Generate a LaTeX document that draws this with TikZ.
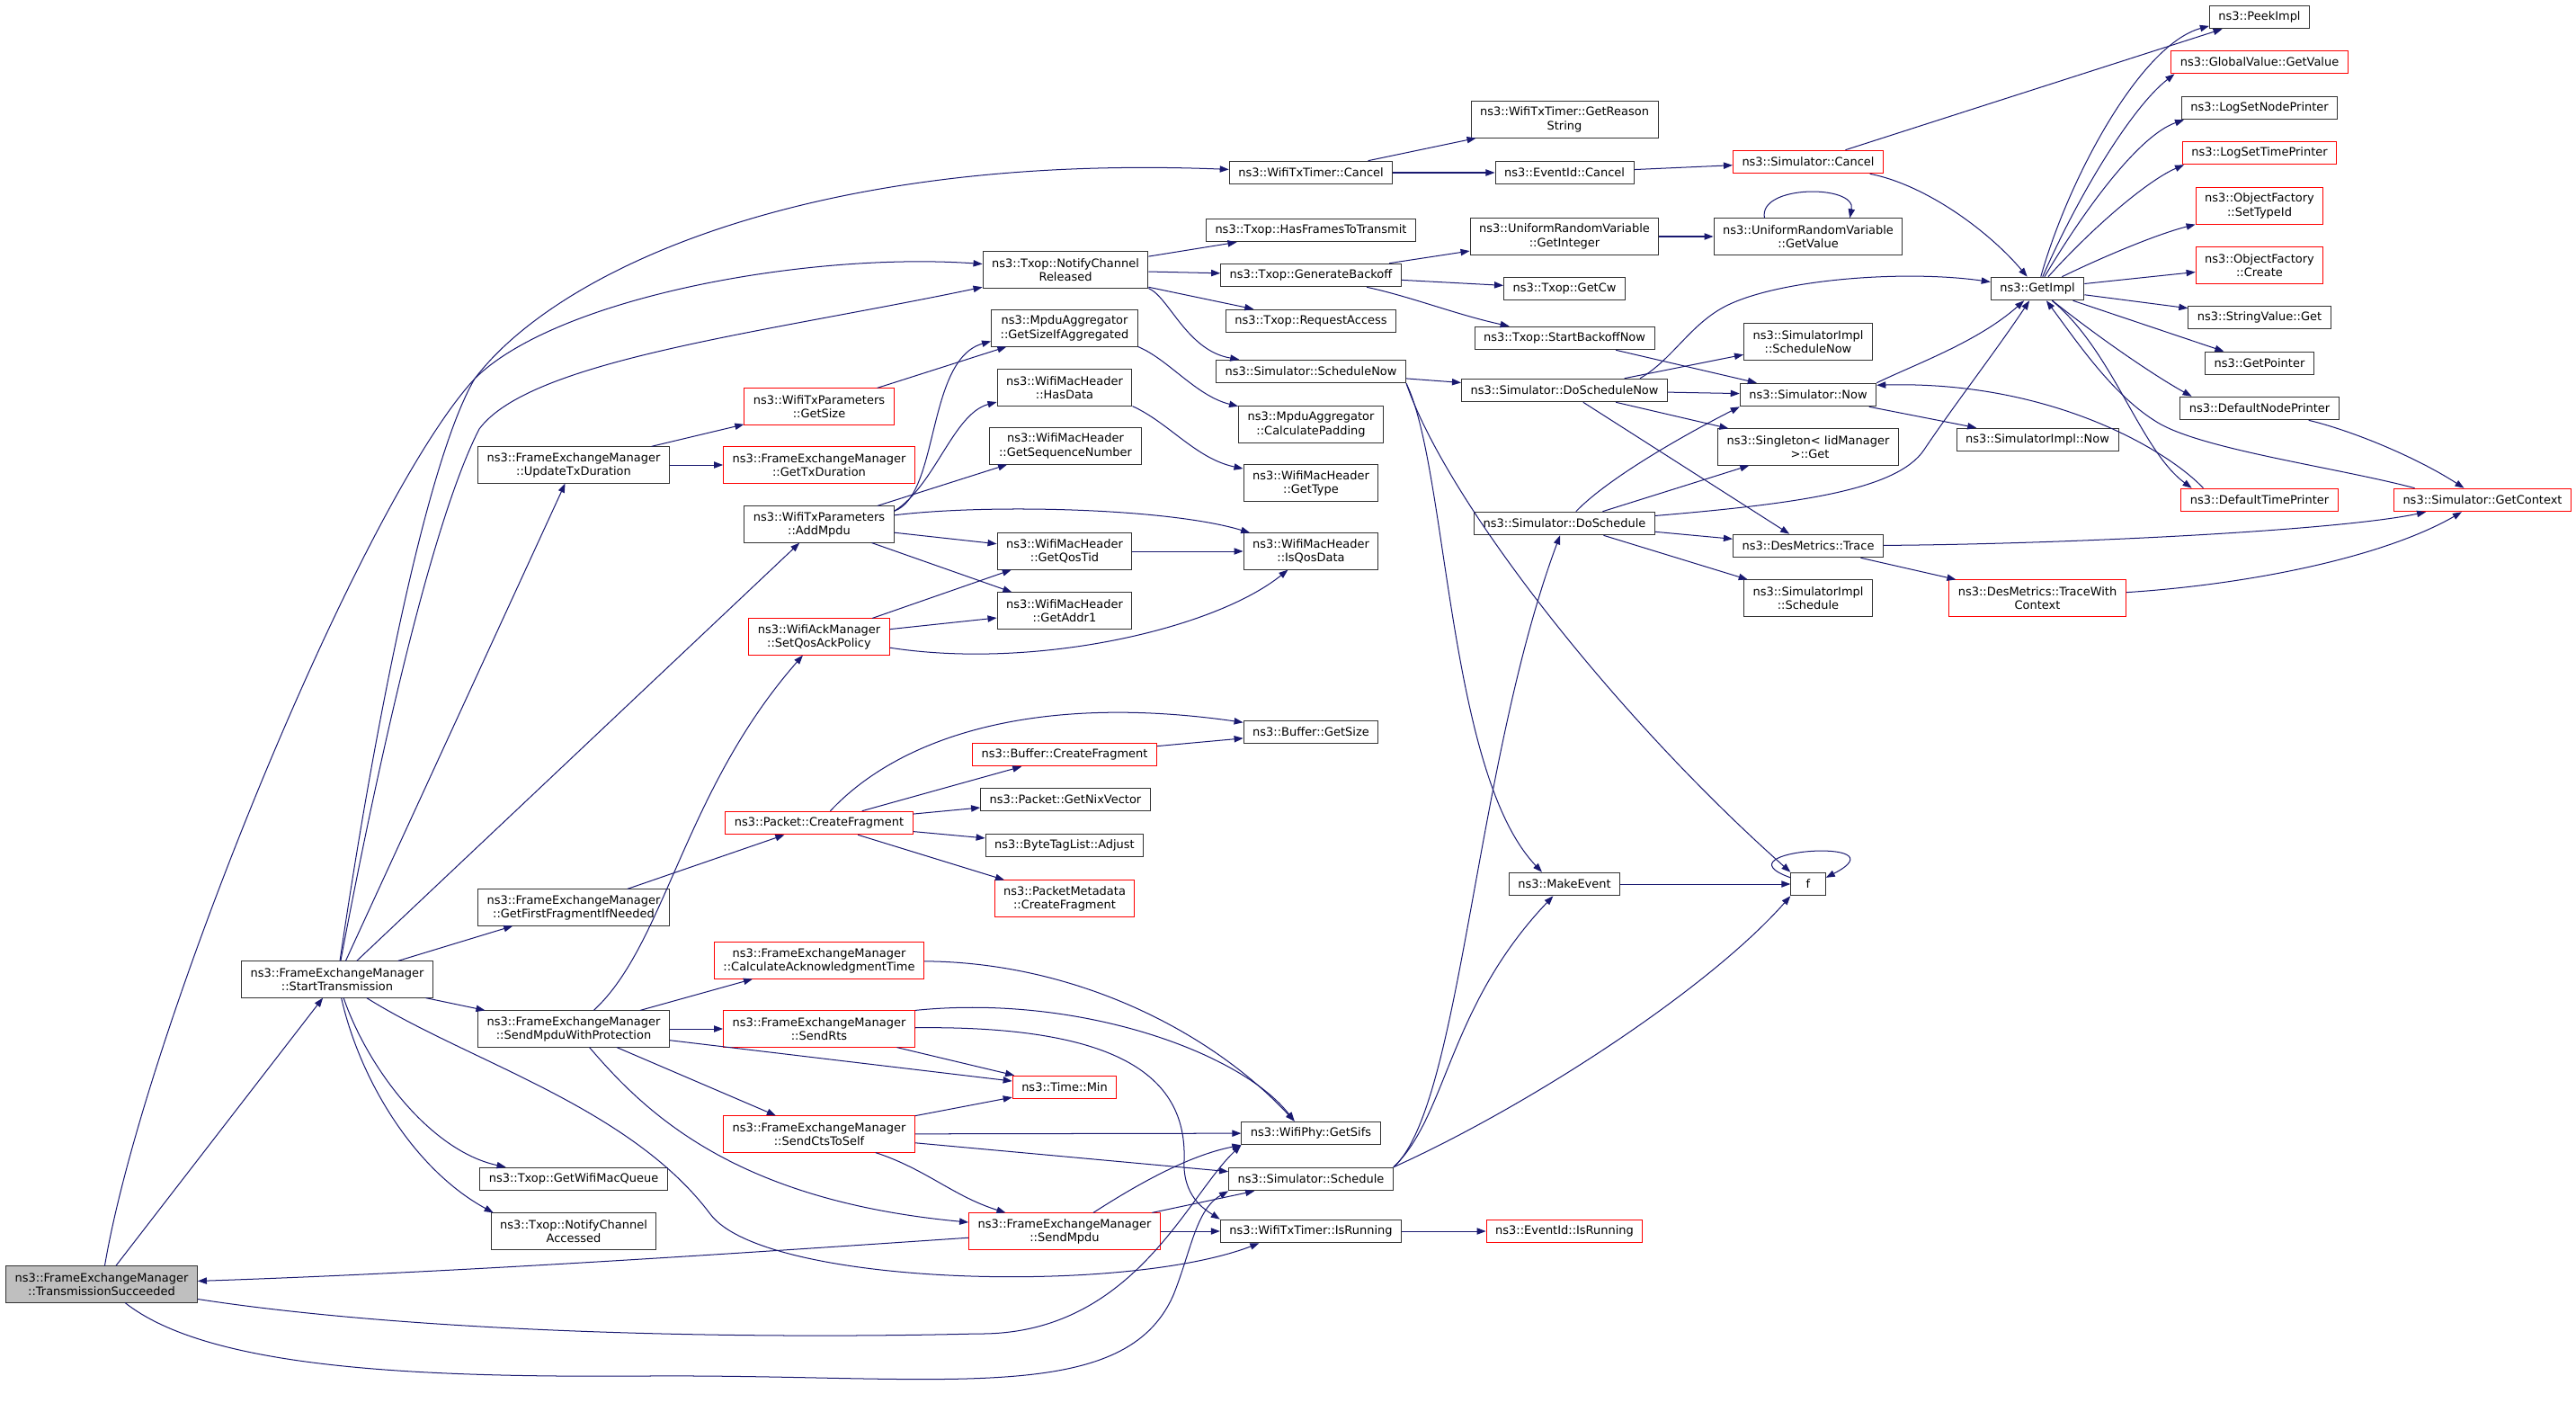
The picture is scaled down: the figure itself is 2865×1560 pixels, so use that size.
\documentclass[tikz,border=0pt]{standalone}
\usepackage{fontspec}
\setmainfont{DejaVu Sans}
\usetikzlibrary{arrows.meta}
\definecolor{edgeblue}{HTML}{191970}
\definecolor{boxline}{HTML}{333333}
\definecolor{boxgray}{HTML}{BFBFBF}

\begin{document}
\begin{tikzpicture}[x=0.5473pt,y=-0.5473pt,
    fn/.style={draw=boxline,line width=0.55pt,fill=white,inner xsep=5.5pt,inner ysep=3.3pt,
      minimum height=14pt,align=center,font=\fontsize{7.1}{8.3}\selectfont},
    fnred/.style={fn,draw=red},
    fnroot/.style={fn,fill=boxgray},
    tall/.style={minimum height=22pt},
    calls/.style={draw=edgeblue,line width=0.55pt,-{Triangle[length=5.5pt,width=4pt]}}]
\useasboundingbox (0,0) rectangle (2865,1560);

\node[fnroot,tall] (ts) at (113,1428) {ns3::FrameExchangeManager\\::TransmissionSucceeded};
\node[fn,tall] (st) at (375,1089) {ns3::FrameExchangeManager\\::StartTransmission};

\node[fn,tall] (utd) at (638,517) {ns3::FrameExchangeManager\\::UpdateTxDuration};
\node[fn,tall] (gff) at (638,1009) {ns3::FrameExchangeManager\\::GetFirstFragmentIfNeeded};
\node[fn,tall] (smwp) at (638,1144) {ns3::FrameExchangeManager\\::SendMpduWithProtection};
\node[fn] (gwmq) at (638,1311) {ns3::Txop::GetWifiMacQueue};
\node[fn,tall] (nca) at (638,1369) {ns3::Txop::NotifyChannel\\Accessed};

\node[fnred,tall] (txsize) at (911,452) {ns3::WifiTxParameters\\::GetSize};
\node[fnred,tall] (gtxd) at (911,517) {ns3::FrameExchangeManager\\::GetTxDuration};
\node[fn,tall] (addmpdu) at (911,583) {ns3::WifiTxParameters\\::AddMpdu};
\node[fnred,tall] (sqap) at (911,708) {ns3::WifiAckManager\\::SetQosAckPolicy};
\node[fnred] (pcf) at (911,915) {ns3::Packet::CreateFragment};
\node[fnred,tall] (cat) at (911,1068) {ns3::FrameExchangeManager\\::CalculateAcknowledgmentTime};
\node[fnred,tall] (rts) at (911,1144) {ns3::FrameExchangeManager\\::SendRts};
\node[fnred,tall] (cts) at (911,1261) {ns3::FrameExchangeManager\\::SendCtsToSelf};

\node[fn,tall] (ncr) at (1185,300) {ns3::Txop::NotifyChannel\\Released};
\node[fn,tall] (gsia) at (1184,365) {ns3::MpduAggregator\\::GetSizeIfAggregated};
\node[fn,tall] (hasdata) at (1184,431) {ns3::WifiMacHeader\\::HasData};
\node[fn,tall] (gsn) at (1185,496) {ns3::WifiMacHeader\\::GetSequenceNumber};
\node[fn,tall] (qostid) at (1184,613) {ns3::WifiMacHeader\\::GetQosTid};
\node[fn,tall] (addr1) at (1184,679) {ns3::WifiMacHeader\\::GetAddr1};
\node[fnred] (bcf) at (1184,839) {ns3::Buffer::CreateFragment};
\node[fn] (nix) at (1185,889) {ns3::Packet::GetNixVector};
\node[fn] (adjust) at (1184,940) {ns3::ByteTagList::Adjust};
\node[fnred,tall] (pmcf) at (1184,999) {ns3::PacketMetadata\\::CreateFragment};
\node[fnred] (tmin) at (1184,1209) {ns3::Time::Min};
\node[fnred,tall] (sendmpdu) at (1184,1369) {ns3::FrameExchangeManager\\::SendMpdu};

\node[fn] (wttcancel) at (1458,192) {ns3::WifiTxTimer::Cancel};
\node[fn] (hasframes) at (1458,256) {ns3::Txop::HasFramesToTransmit};
\node[fn] (genbo) at (1458,306) {ns3::Txop::GenerateBackoff};
\node[fn] (reqacc) at (1458,357) {ns3::Txop::RequestAccess};
\node[fn] (schednow) at (1458,413) {ns3::Simulator::ScheduleNow};
\node[fn,tall] (calcpad) at (1458,472) {ns3::MpduAggregator\\::CalculatePadding};
\node[fn,tall] (gettype) at (1458,537) {ns3::WifiMacHeader\\::GetType};
\node[fn,tall] (isqos) at (1458,613) {ns3::WifiMacHeader\\::IsQosData};
\node[fn] (bgetsize) at (1458,814) {ns3::Buffer::GetSize};
\node[fn] (sifs) at (1458,1260) {ns3::WifiPhy::GetSifs};
\node[fn] (sched) at (1458,1311) {ns3::Simulator::Schedule};
\node[fn] (wttrun) at (1458,1369) {ns3::WifiTxTimer::IsRunning};

\node[fn,tall] (reason) at (1740,133) {ns3::WifiTxTimer::GetReason\\String};
\node[fn] (evcancel) at (1740,192) {ns3::EventId::Cancel};
\node[fn,tall] (getint) at (1740,263) {ns3::UniformRandomVariable\\::GetInteger};
\node[fn] (getcw) at (1740,321) {ns3::Txop::GetCw};
\node[fn] (sbn) at (1740,376) {ns3::Txop::StartBackoffNow};
\node[fn] (dsn) at (1740,434) {ns3::Simulator::DoScheduleNow};
\node[fn] (dosched) at (1740,582) {ns3::Simulator::DoSchedule};
\node[fn] (makeev) at (1740,983) {ns3::MakeEvent};
\node[fnred] (evrun) at (1740,1369) {ns3::EventId::IsRunning};

\node[fnred] (simcancel) at (2011,180) {ns3::Simulator::Cancel};
\node[fn,tall] (getval) at (2011,263) {ns3::UniformRandomVariable\\::GetValue};
\node[fn,tall] (implsn) at (2011,380) {ns3::SimulatorImpl\\::ScheduleNow};
\node[fn] (simnow) at (2011,439) {ns3::Simulator::Now};
\node[fn,tall] (iidget) at (2011,497) {ns3::Singleton< IidManager\\~>::Get};
\node[fn] (trace) at (2011,607) {ns3::DesMetrics::Trace};
\node[fn,tall] (implsched) at (2011,665) {ns3::SimulatorImpl\\::Schedule};
\node[fn,minimum width=21pt] (f) at (2011,983) {f};

\node[fn] (getimpl) at (2266,321) {ns3::GetImpl};
\node[fn] (implnow) at (2266,489) {ns3::SimulatorImpl::Now};
\node[fnred,tall] (twc) at (2266,665) {ns3::DesMetrics::TraceWith\\Context};

\node[fn] (peek) at (2513,19) {ns3::PeekImpl};
\node[fnred] (gvget) at (2513,69) {ns3::GlobalValue::GetValue};
\node[fn] (lsnp) at (2513,120) {ns3::LogSetNodePrinter};
\node[fnred] (lstp) at (2513,170) {ns3::LogSetTimePrinter};
\node[fnred,tall] (ofsti) at (2513,229) {ns3::ObjectFactory\\::SetTypeId};
\node[fnred,tall] (ofcr) at (2513,295) {ns3::ObjectFactory\\::Create};
\node[fn] (svget) at (2513,353) {ns3::StringValue::Get};
\node[fn] (getptr) at (2513,404) {ns3::GetPointer};
\node[fn] (dnp) at (2513,454) {ns3::DefaultNodePrinter};
\node[fnred] (dtp) at (2513,556) {ns3::DefaultTimePrinter};
\node[fnred] (getctx) at (2761,556) {ns3::Simulator::GetContext};

\draw[calls] (ts) -- (st);
\draw[calls] (ts) .. controls (160,1150) and (400,560) .. (528,421) .. controls (620,330) and (900,280) .. (ncr);
\draw[calls] (ts) .. controls (450,1480) and (800,1490) .. (1087,1483) .. controls (1260,1485) and (1320,1330) .. (sifs.south west);
\draw[calls] (ts) .. controls (230,1520) and (450,1532) .. (720,1530) .. controls (1050,1528) and (1250,1565) .. (1305,1440) .. controls (1325,1390) and (1330,1345) .. (sched.south west);

\draw[calls] (st) .. controls (410,850) and (470,520) .. (528,421) .. controls (620,300) and (900,170) .. (wttcancel);
\draw[calls] (st) .. controls (420,850) and (480,580) .. (533,477) .. controls (590,400) and (850,370) .. (ncr);
\draw[calls] (st) -- (utd);
\draw[calls] (st) -- (addmpdu);
\draw[calls] (st) -- (gff);
\draw[calls] (st) -- (smwp);
\draw[calls] (st) .. controls (410,1190) and (480,1280) .. (gwmq.170);
\draw[calls] (st) .. controls (400,1200) and (460,1300) .. (nca.167);
\draw[calls] (st) .. controls (520,1180) and (700,1230) .. (790,1350) .. controls (850,1430) and (1250,1440) .. (wttrun.193);

\draw[calls] (smwp) .. controls (740,1050) and (760,880) .. (sqap);
\draw[calls] (smwp) -- (cat);
\draw[calls] (smwp) -- (rts);
\draw[calls] (smwp) -- (tmin);
\draw[calls] (smwp) -- (cts);
\draw[calls] (smwp) .. controls (720,1240) and (820,1335) .. (sendmpdu);

\draw[calls] (utd) -- (txsize);
\draw[calls] (utd) -- (gtxd);
\draw[calls] (txsize) -- (gsia);

\draw[calls] (addmpdu.10) .. controls (1045,550) and (1030,400) .. (gsia.190);
\draw[calls] (addmpdu.10) .. controls (1040,540) and (1060,460) .. (hasdata.192);
\draw[calls] (addmpdu) -- (gsn);
\draw[calls] (addmpdu) .. controls (1100,560) and (1300,565) .. (isqos);
\draw[calls] (addmpdu) -- (qostid);
\draw[calls] (addmpdu) -- (addr1);
\draw[calls] (gsia.south east) .. controls (1300,400) and (1330,440) .. (calcpad);
\draw[calls] (hasdata.south east) .. controls (1300,470) and (1330,510) .. (gettype);
\draw[calls] (qostid) -- (isqos);
\draw[calls] (sqap) -- (qostid);
\draw[calls] (sqap) -- (addr1);
\draw[calls] (sqap) .. controls (1150,745) and (1350,700) .. (isqos);

\draw[calls] (gff) -- (pcf);
\draw[calls] (pcf) .. controls (1000,820) and (1150,770) .. (bgetsize);
\draw[calls] (pcf) -- (bcf);
\draw[calls] (pcf) -- (nix);
\draw[calls] (pcf) -- (adjust);
\draw[calls] (pcf) -- (pmcf);
\draw[calls] (bcf) -- (bgetsize);

\draw[calls] (cat) .. controls (1200,1070) and (1350,1150) .. (sifs.144);
\draw[calls] (rts.north east) .. controls (1200,1105) and (1380,1170) .. (sifs.144);
\draw[calls] (rts) -- (tmin);
\draw[calls] (rts) .. controls (1250,1140) and (1320,1200) .. (1317,1290) .. controls (1315,1330) and (1340,1345) .. (wttrun.north west);
\draw[calls] (cts) -- (tmin);
\draw[calls] (cts) -- (sifs);
\draw[calls] (cts) -- (sched);
\draw[calls] (cts) .. controls (1030,1300) and (1060,1330) .. (sendmpdu);

\draw[calls] (sendmpdu) .. controls (1260,1320) and (1320,1285) .. (sifs.south west);
\draw[calls] (sendmpdu) -- (sched);
\draw[calls] (sendmpdu) -- (wttrun);
\draw[calls] (sendmpdu) .. controls (800,1395) and (500,1415) .. (ts);
\draw[calls] (wttrun) -- (evrun);

\draw[calls] (ncr) -- (hasframes);
\draw[calls] (ncr) -- (genbo);
\draw[calls] (ncr) -- (reqacc);
\draw[calls] (ncr.south east) .. controls (1300,330) and (1320,390) .. (schednow);

\draw[calls] (wttcancel) -- (reason);
\draw[calls] (wttcancel) -- (evcancel);
\draw[calls] (evcancel) -- (simcancel);
\draw[calls] (simcancel) -- (peek);
\draw[calls] (simcancel) .. controls (2140,205) and (2210,255) .. (getimpl);

\draw[calls] (genbo) -- (getint);
\draw[calls] (genbo) -- (getcw);
\draw[calls] (genbo) .. controls (1570,330) and (1620,350) .. (sbn);
\draw[calls] (getint) -- (getval);
\draw[calls] (getval.157) .. controls (1955,205) and (2065,205) .. (getval.24);
\draw[calls] (sbn) -- (simnow);

\draw[calls] (schednow) -- (dsn);
\draw[calls] (schednow.south east) .. controls (1610,520) and (1610,860) .. (makeev.152);
\draw[calls] (schednow.south east) .. controls (1610,560) and (1800,800) .. (f.north west);

\draw[calls] (dsn) -- (implsn);
\draw[calls] (dsn) -- (simnow);
\draw[calls] (dsn) -- (iidget);
\draw[calls] (dsn) -- (trace);
\draw[calls] (dsn.9) .. controls (1860,400) and (1880,360) .. (1920,340) .. controls (1980,310) and (2120,300) .. (getimpl);

\draw[calls] (dosched) .. controls (2000,560) and (2110,545) .. (2140,500) .. controls (2170,455) and (2220,390) .. (getimpl);
\draw[calls] (dosched) .. controls (1790,530) and (1880,480) .. (simnow.south west);
\draw[calls] (dosched) -- (iidget);
\draw[calls] (dosched) -- (trace);
\draw[calls] (dosched) -- (implsched);

\draw[calls] (sched.north east) .. controls (1625,1230) and (1640,850) .. (dosched);
\draw[calls] (sched.north east) .. controls (1610,1240) and (1610,1120) .. (makeev);
\draw[calls] (sched.north east) .. controls (1700,1230) and (1900,1100) .. (f.south west);
\draw[calls] (makeev) -- (f);
\draw[calls] (f.160) .. controls (1905,945) and (2120,930) .. (f.20);

\draw[calls] (simnow) -- (implnow);
\draw[calls] (simnow.north east) .. controls (2130,405) and (2200,380) .. (getimpl);
\draw[calls] (dtp.168) .. controls (2410,500) and (2280,423) .. (simnow.8);
\draw[calls] (getimpl) .. controls (2350,390) and (2380,500) .. (dtp.170);
\draw[calls] (getctx.170) .. controls (2600,520) and (2450,500) .. (2400,470) .. controls (2350,440) and (2310,380) .. (getimpl);
\draw[calls] (getimpl) .. controls (2340,380) and (2400,420) .. (dnp.170);
\draw[calls] (dnp) .. controls (2620,480) and (2690,510) .. (getctx);
\draw[calls] (trace) .. controls (2300,605) and (2600,590) .. (getctx);
\draw[calls] (trace) -- (twc);
\draw[calls] (twc) .. controls (2500,650) and (2650,620) .. (getctx);

\draw[calls] (getimpl) .. controls (2300,200) and (2380,50) .. (peek.190);
\draw[calls] (getimpl) .. controls (2310,220) and (2370,120) .. (gvget.188);
\draw[calls] (getimpl) .. controls (2320,230) and (2380,150) .. (lsnp.189);
\draw[calls] (getimpl) .. controls (2330,250) and (2390,200) .. (lstp.189);
\draw[calls] (getimpl) .. controls (2340,285) and (2400,260) .. (ofsti.south west);
\draw[calls] (getimpl) -- (ofcr);
\draw[calls] (getimpl) -- (svget);
\draw[calls] (getimpl) -- (getptr);
\end{tikzpicture}
\end{document}
